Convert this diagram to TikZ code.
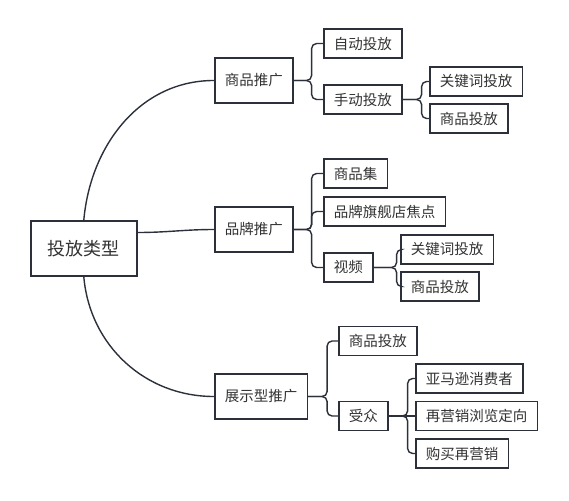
\documentclass[tikz,border=0pt]{standalone}
\usepackage{fontspec}
\newfontfamily\cjk{Noto Sans CJK SC}
\definecolor{ink}{HTML}{2B303A}
\definecolor{txt}{HTML}{333333}
\tikzset{
  box/.style={draw=ink,line width=1.6pt,fill=white,text=txt,font=\cjk\fontsize{14.5}{16}\selectfont,
    inner xsep=10pt,inner ysep=0pt,minimum height=29pt,anchor=west},
  midbox/.style={box,minimum height=45pt},
  rootbox/.style={box,font=\cjk\fontsize{18}{20}\selectfont,inner xsep=17pt,minimum height=55pt},
  link/.style={draw=ink,line width=1.4pt,rounded corners=5pt},
}
\begin{document}
\begin{tikzpicture}[x=1pt,y=-1pt]
\useasboundingbox (0,0) rectangle (569,500);
% root and first level
\node[rootbox] (root) at (30,248.5) {投放类型};
\node[midbox] (sp) at (214,80.5) {商品推广};
\node[midbox] (pp) at (214,229.5) {品牌推广};
\node[midbox] (zs) at (214,396.5) {展示型推广};
\draw[link] (root.north) to[out=85,in=180] (sp.west);
\draw[link] ([yshift=16pt]root.east) to[out=0,in=180] (pp.west);
\draw[link] (root.south) to[out=-85,in=180] (zs.west);
% 商品推广
\node[box] (zd) at (323,43.5) {自动投放};
\node[box] (sd) at (323,99.5) {手动投放};
\node[box] (gj1) at (429,81.5) {关键词投放};
\node[box] (sp1) at (429,118.5) {商品投放};
\draw[link] (sp.east) -- ++(18,0) |- (zd.west);
\draw[link] (sp.east) -- ++(18,0) |- (sd.west);
\draw[link] (sd.east) -- ++(19,0) |- (gj1.west);
\draw[link] (sd.east) -- ++(19,0) |- (sp1.west);
% 品牌推广
\node[box] (spj) at (323,173.5) {商品集};
\node[box] (qj) at (323,211.5) {品牌旗舰店焦点};
\node[box] (sp0) at (323,267.5) {视频};
\node[box] (gj2) at (400,249.5) {关键词投放};
\node[box] (sp2) at (400,286.5) {商品投放};
\draw[link] (pp.east) -- ++(18,0) |- (spj.west);
\draw[link] (pp.east) -- ++(18,0) |- (qj.west);
\draw[link] (pp.east) -- ++(18,0) |- (sp0.west);
\draw[link] (sp0.east) -- ++(23,0) |- (gj2.west);
\draw[link] (sp0.east) -- ++(23,0) |- (sp2.west);
% 展示型推广
\node[box] (sp3) at (338,341) {商品投放};
\node[box] (sz) at (338,416) {受众};
\node[box] (ymx) at (415,378.5) {亚马逊消费者};
\node[box] (zyx) at (415,416) {再营销浏览定向};
\node[box] (gm) at (415,453.5) {购买再营销};
\draw[link] (zs.east) -- ++(19,0) |- (sp3.west);
\draw[link] (zs.east) -- ++(19,0) |- (sz.west);
\draw[link] (sz.east) -- ++(19,0) |- (ymx.west);
\draw[link] (sz.east) -- (zyx.west);
\draw[link] (sz.east) -- ++(19,0) |- (gm.west);
\end{tikzpicture}
\end{document}
